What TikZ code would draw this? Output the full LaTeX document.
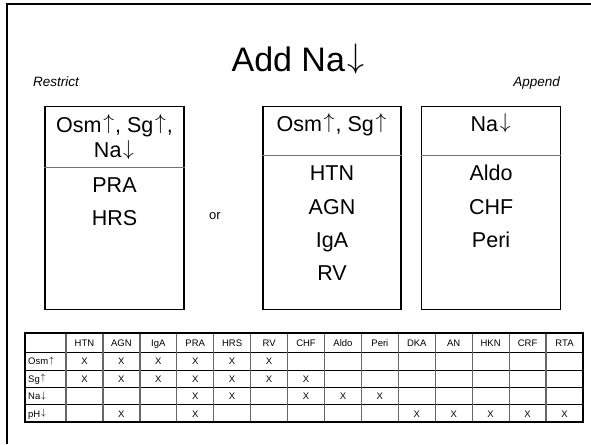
\RequirePackage{fix-cm}
\documentclass[tikz,border=0pt]{standalone}
\usepackage{fontspec}
\setmainfont{Liberation Sans}
\newcommand\upar{\kern0.08em\raisebox{0.12em}{$\uparrow$}\kern0.05em}
\newcommand\dnar{\kern0.08em\raisebox{0.12em}{$\downarrow$}\kern0.05em}
\usetikzlibrary{positioning}

\tikzset{
  boxframe/.style={draw,line width=1.6pt,minimum width=139pt,minimum height=203pt,inner sep=0pt},
  divider/.style={draw=black!55,line width=0.8pt},
  boxtext/.style={font=\fontsize{21.5}{25.5}\selectfont,inner sep=0pt,anchor=base},
  sidetext/.style={font=\fontsize{13.5}{15}\selectfont\itshape,inner sep=0pt},
  tabtext/.style={font=\fontsize{9.5}{11}\selectfont,inner sep=0pt,anchor=base}
}

\begin{document}
\begin{tikzpicture}[x=1pt,y=-1pt]
\useasboundingbox (0,0) rectangle (591,444);
% slide frame
\draw[line width=2.4pt] (7,444) -- (7,4) -- (591,4);

\node[font=\fontsize{34}{38}\selectfont,inner sep=0pt,anchor=base] (title) at (299,71.7) {Add Na\dnar};
\node[sidetext,anchor=base west] (restrict) at (33,86.7) {Restrict};
\node[sidetext,anchor=base east] (append) at (560,86.7) {Append};

% the three boxes
\node[boxframe] (restr) at (114.5,208) {};
\node[boxframe,minimum width=138pt] (other) at (332,208) {};
\node[boxframe,right=19pt of other] (appd) {};
\draw[divider] (restr.west |- 0,167) -- (restr.east |- 0,167);
\draw[divider] (other.west |- 0,155) -- (other.east |- 0,155);
\draw[divider] (appd.west |- 0,155) -- (appd.east |- 0,155);

\node[boxtext,anchor=center,align=center] (restrhead) at (114.5,137) {Osm\upar, Sg\upar,\\Na\dnar};
\node[boxtext] (otherhead) at (332,131.5) {Osm\upar, Sg\upar};
\node[boxtext] (appdhead) at (appd.north |- 0,131.5) {Na\dnar};

\foreach \t [count=\i] in {PRA,HRS}
  \node[boxtext] (restr-\i) at (114.5,159.5+33*\i) {\t};
\foreach \t [count=\i] in {HTN,AGN,IgA,RV}
  \node[boxtext] (other-\i) at (332,147.5+33.3*\i) {\t};
\foreach \t [count=\i] in {Aldo,CHF,Peri}
  \node[boxtext] (appd-\i) at (appd.north |- 0,147.5+33.3*\i) {\t};

\node[font=\fontsize{13}{15}\selectfont,inner sep=0pt] (or) at (215,216) {or};

% summary table
\foreach \y in {352,370,387,404}
  \draw[line width=0.7pt] (25,\y) -- (583,\y);
\draw[black!60,line width=1.3pt] (66,333) -- (66,422);
\foreach \c in {1,...,13}
  \draw[black!60,line width=1.3pt] (66+36.93*\c,333) -- (66+36.93*\c,422);
\draw[line width=1.3pt] (25,333) rectangle (583,422);

\foreach \t [count=\c] in {HTN,AGN,IgA,PRA,HRS,RV,CHF,Aldo,Peri,DKA,AN,HKN,CRF,RTA}
  \node[tabtext] (hdr-\c) at (47.5+36.93*\c,346) {\t};
\foreach \t [count=\r] in {Osm\upar,Sg\upar,Na\dnar,pH\dnar}
  \node[tabtext,anchor=base west] (lbl-\r) at (28,347+17.5*\r) {\t};

\foreach \r/\cols in {1/{1,2,3,4,5,6},2/{1,2,3,4,5,6,7},3/{4,5,7,8,9},4/{2,4,10,11,12,13,14}}
  \foreach \c in \cols
    \node[tabtext] (x-\r-\c) at (47.5+36.93*\c,347+17.5*\r) {X};
\end{tikzpicture}
\end{document}
